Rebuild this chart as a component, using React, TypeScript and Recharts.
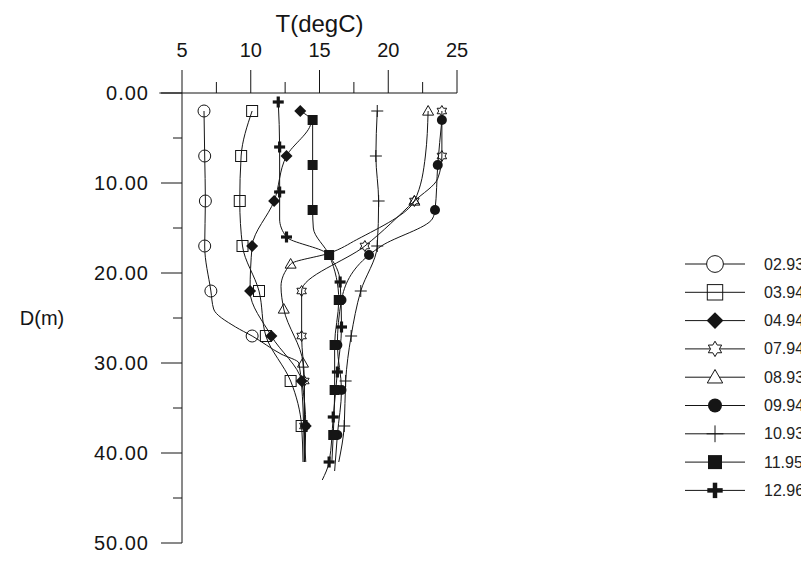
import React from 'react';
import { ComposedChart, Line, XAxis, YAxis, ReferenceLine, Legend } from 'recharts';

const FONT = '"Liberation Sans", Arial, Helvetica, sans-serif';
const INK = '#151515';

// series labels (legend)
const seriesNames = ['02.93', '03.94', '04.94', '07.94', '08.93', '09.94', '10.93', '11.95', '12.96'];

// axis ticks
const tempTicks = [5, 7.5, 10, 12.5, 15, 17.5, 20, 22.5, 25];
const depthTicks = [0, 5, 10, 15, 20, 25, 30, 35, 40, 45, 50];

// 02.93
const d0293 = [2, 7, 12, 17, 22, 24, 26, 27, 29, 30, 35, 41];
const t0293 = [6.6, 6.65, 6.7, 6.65, 7.1, 7.3, 8.9, 10.1, 12.2, 13.5, 13.8, 13.9];
const m0293 = [2, 7, 12, 17, 22, 27];
// 03.94
const d0394 = [2, 7, 12, 17, 22, 27, 32, 37, 41];
const t0394 = [10.1, 9.3, 9.2, 9.4, 10.6, 11.1, 12.9, 13.7, 13.8];
const m0394 = [2, 7, 12, 17, 22, 27, 32, 37];
// 04.94
const d0494 = [2, 3.1, 7, 12, 17, 22, 27, 32, 37, 41];
const t0494 = [13.6, 14.4, 12.6, 11.7, 10.1, 9.95, 11.5, 13.7, 14.0, 13.9];
const m0494 = [2, 7, 12, 17, 22, 27, 32, 37];
// 07.94
const d0794 = [2, 7, 9.5, 12, 17, 22, 27, 32, 37, 41];
const t0794 = [23.9, 23.9, 23.6, 21.9, 18.3, 13.7, 13.7, 13.9, 13.9, 14.0];
const m0794 = [2, 7, 12, 17, 22, 27, 32, 37];
// 08.93
const d0893 = [2, 7, 12, 16.3, 17.8, 19, 21.5, 24, 30, 34, 41];
const t0893 = [22.9, 22.7, 21.9, 17.7, 15.7, 12.9, 12.2, 12.4, 13.8, 13.9, 13.9];
const m0893 = [2, 12, 19, 24, 30];
// 09.94
const d0994 = [3, 8, 13, 14, 17, 18, 23, 28, 33, 38, 42];
const t0994 = [23.9, 23.6, 23.4, 23.2, 19.5, 18.6, 16.6, 16.3, 16.6, 16.3, 16.1];
const m0994 = [3, 8, 13, 18, 23, 28, 33, 38];
// 10.93
const d1093 = [2, 7, 12, 17, 22, 27, 32, 37, 41];
const t1093 = [19.2, 19.1, 19.3, 19.2, 18.0, 17.3, 16.9, 16.8, 16.4];
const m1093 = [2, 7, 12, 17, 22, 27, 32, 37];
// 11.95
const d1195 = [3, 8, 13, 15, 18, 23, 28, 33, 38, 41];
const t1195 = [14.5, 14.5, 14.5, 14.55, 15.7, 16.4, 16.1, 16.1, 16.0, 15.9];
const m1195 = [3, 8, 13, 18, 23, 28, 33, 38];
// 12.96
const d1296 = [1, 6, 11, 14, 16, 17.8, 21, 26, 31, 36, 41, 43];
const t1296 = [12.0, 12.1, 12.1, 12.1, 12.6, 15.5, 16.5, 16.6, 16.3, 16.0, 15.7, 15.2];
const m1296 = [1, 6, 11, 16, 21, 26, 31, 36, 41];

type Row = { d: number; t: number; mark: boolean };
const rows = (d: number[], t: number[], m: number[]): Row[] =>
  d.map((dv, i) => ({ d: dv, t: t[i], mark: m.includes(dv) }));

const seriesData: Row[][] = [
  rows(d0293, t0293, m0293),
  rows(d0394, t0394, m0394),
  rows(d0494, t0494, m0494),
  rows(d0794, t0794, m0794),
  rows(d0893, t0893, m0893),
  rows(d0994, t0994, m0994),
  rows(d1093, t1093, m1093),
  rows(d1195, t1195, m1195),
  rows(d1296, t1296, m1296),
];

const shapes = [
  'circleOpen',
  'squareOpen',
  'diamond',
  'star',
  'triangle',
  'circleFilled',
  'plusThin',
  'squareFilled',
  'plusBold',
];

function Marker({ shape, cx, cy, s, legend }: { shape: string; cx: number; cy: number; s: number; legend?: boolean }) {
  switch (shape) {
    case 'circleOpen':
      return <circle cx={cx} cy={cy} r={6 * s} fill={legend ? '#fff' : 'none'} stroke={INK} strokeWidth={1} />;
    case 'squareOpen': {
      const h = 5.5 * s;
      return <rect x={cx - h} y={cy - h} width={2 * h} height={2 * h} fill="none" stroke={INK} strokeWidth={1} />;
    }
    case 'diamond': {
      const h = 6 * s;
      return <polygon points={`${cx},${cy - h} ${cx + h},${cy} ${cx},${cy + h} ${cx - h},${cy}`} fill={INK} />;
    }
    case 'star': {
      const R = 5.5 * s;
      const r = R / Math.sqrt(3);
      const pts: string[] = [];
      for (let k = 0; k < 12; k++) {
        const rad = k % 2 === 0 ? R : r;
        const a = ((-90 + k * 30) * Math.PI) / 180;
        pts.push(`${cx + rad * Math.cos(a)},${cy + rad * Math.sin(a)}`);
      }
      return <polygon points={pts.join(' ')} fill={legend ? '#fff' : 'none'} stroke={INK} strokeWidth={1} />;
    }
    case 'triangle': {
      const h = 5.5 * s;
      return (
        <polygon
          points={`${cx},${cy - h} ${cx + h},${cy + h * 0.75} ${cx - h},${cy + h * 0.75}`}
          fill={legend ? '#fff' : 'none'}
          stroke={INK}
          strokeWidth={1}
        />
      );
    }
    case 'circleFilled':
      return <circle cx={cx} cy={cy} r={5 * s} fill={INK} />;
    case 'plusThin': {
      const h = 6 * s;
      return (
        <g stroke={INK} strokeWidth={1}>
          <line x1={cx - h} y1={cy} x2={cx + h} y2={cy} />
          <line x1={cx} y1={cy - h} x2={cx} y2={cy + h} />
        </g>
      );
    }
    case 'squareFilled': {
      const h = 5 * s;
      return <rect x={cx - h} y={cy - h} width={2 * h} height={2 * h} fill={INK} />;
    }
    case 'plusBold': {
      const h = 5.5 * s;
      const w = 1.6 * s;
      return (
        <g fill={INK}>
          <rect x={cx - h} y={cy - w} width={2 * h} height={2 * w} />
          <rect x={cx - w} y={cy - h} width={2 * w} height={2 * h} />
        </g>
      );
    }
    default:
      return <g />;
  }
}

const XTick = (props: any) => {
  const { x, y, payload } = props;
  const v = payload.value;
  const major = v % 5 === 0;
  return (
    <g>
      <line x1={x} y1={y} x2={x} y2={y - (major ? 23 : 11)} stroke={INK} strokeWidth={1} />
      {major && (
        <text x={x} y={y - 36} textAnchor="middle" fontSize={20} fill={INK} fontFamily={FONT}>
          {v}
        </text>
      )}
    </g>
  );
};

const YTick = (props: any) => {
  const { x, y, payload } = props;
  const v = payload.value;
  const major = v % 10 === 0;
  return (
    <g>
      <line x1={x} y1={y} x2={x - (major ? 21 : 9)} y2={y} stroke={INK} strokeWidth={1} />
      {major && (
        <text x={x - 33} y={y + 7} textAnchor="end" fontSize={20} letterSpacing={1} fill={INK} fontFamily={FONT}>
          {v.toFixed(2)}
        </text>
      )}
    </g>
  );
};

const XTitle = (props: any) => {
  const vb = props.viewBox || {};
  return (
    <text x={vb.x + vb.width / 2} y={vb.y - 1} textAnchor="middle" fontSize={24} fill={INK} fontFamily={FONT}>
      T(degC)
    </text>
  );
};

const YTitle = (props: any) => {
  const vb = props.viewBox || {};
  return (
    <text x={vb.x} y={vb.y + vb.height / 2 + 7} textAnchor="middle" fontSize={20} fill={INK} fontFamily={FONT}>
      D(m)
    </text>
  );
};

const LegendBox = () => (
  <svg width={130} height={262} style={{ display: 'block', overflow: 'visible' }}>
    {seriesNames.map((name, i) => {
      const y = 14 + i * 28.3;
      return (
        <g key={name}>
          <line x1={8} y1={y} x2={68} y2={y} stroke={INK} strokeWidth={1} />
          <Marker shape={shapes[i]} cx={38} cy={y} s={1.4} legend />
          <text x={87} y={y + 5.5} fontSize={16} fill="#222" fontFamily={FONT}>
            {name}
          </text>
        </g>
      );
    })}
  </svg>
);

export default function App() {
  return (
    <ComposedChart
      width={801}
      height={546}
      layout="vertical"
      margin={{ top: 25, right: 352, bottom: 11, left: 34 }}
    >
      <XAxis
        type="number"
        dataKey="t"
        orientation="top"
        domain={[5, 25]}
        ticks={tempTicks}
        interval={0}
        height={60}
        tickSize={0}
        tickMargin={0}
        tickLine={false}
        axisLine={false}
        tick={<XTick />}
        label={<XTitle />}
        allowDataOverflow
      />
      <YAxis
        type="number"
        dataKey="d"
        domain={[0, 50]}
        ticks={depthTicks}
        interval={0}
        width={140}
        tickSize={0}
        tickMargin={0}
        tickLine={false}
        axisLine={{ stroke: INK, strokeWidth: 1 }}
        tick={<YTick />}
        label={<YTitle />}
        allowDataOverflow
      />
      <ReferenceLine
        segment={[
          { x: 3.35, y: 0 },
          { x: 25, y: 0 },
        ]}
        stroke={INK}
        strokeWidth={1}
        ifOverflow="visible"
      />
      {seriesData.map((data, i) => (
        <Line
          key={seriesNames[i]}
          name={seriesNames[i]}
          data={data}
          dataKey="t"
          type="monotone"
          stroke={INK}
          strokeWidth={1}
          isAnimationActive={false}
          activeDot={false}
          dot={(p: any) =>
            p.payload && p.payload.mark ? (
              <g key={`${seriesNames[i]}-${p.index}`}>
                <Marker shape={shapes[i]} cx={p.cx} cy={p.cy} s={1} />
              </g>
            ) : (
              <g key={`${seriesNames[i]}-${p.index}`} />
            )
          }
        />
      ))}
      <Legend
        layout="vertical"
        align="center"
        verticalAlign="middle"
        content={() => <LegendBox />}
        wrapperStyle={{ position: 'absolute', left: 669, top: 242, width: 130, height: 262 }}
      />
    </ComposedChart>
  );
}
